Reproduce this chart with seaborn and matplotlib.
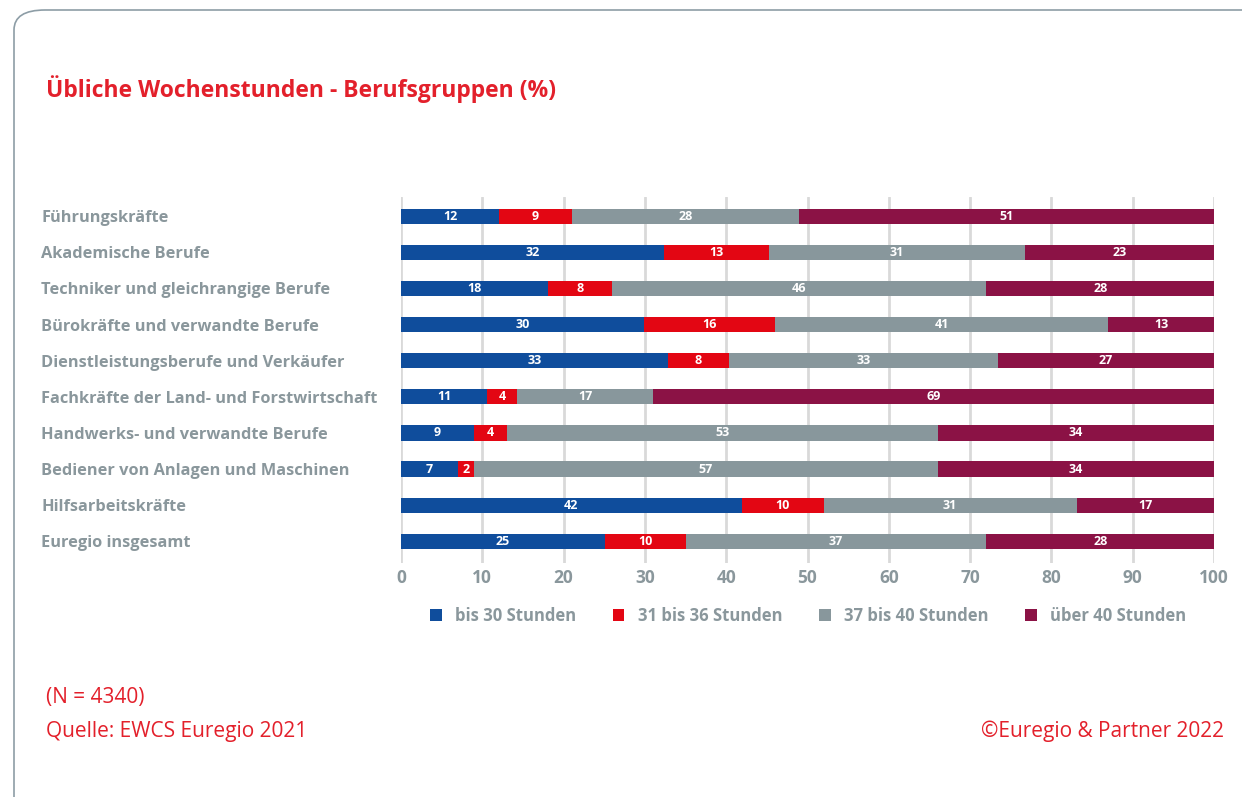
import numpy as np
import matplotlib
matplotlib.use('Agg')
import matplotlib.pyplot as plt
import pandas as pd
import seaborn as sns
from matplotlib.patches import FancyBboxPatch, Patch

sns.set_theme(style='white')
plt.rcParams['font.family'] = ['Open Sans', 'DejaVu Sans']

# data (percent per occupation group)
groups = [
    'Führungskräfte',
    'Akademische Berufe',
    'Techniker und gleichrangige Berufe',
    'Bürokräfte und verwandte Berufe',
    'Dienstleistungsberufe und Verkäufer',
    'Fachkräfte der Land- und Forstwirtschaft',
    'Handwerks- und verwandte Berufe',
    'Bediener von Anlagen und Maschinen',
    'Hilfsarbeitskräfte',
    'Euregio insgesamt',
]
bis_30 = [12.1, 32.3, 18.1, 29.9, 32.8, 10.6, 9.0, 7.0, 41.9, 25.1]
von_31_36 = [8.9, 13.0, 7.9, 16.1, 7.6, 3.7, 4.0, 2.0, 10.1, 9.9]
von_37_40 = [28.0, 31.4, 46.0, 41.0, 33.0, 16.7, 53.0, 57.0, 31.1, 37.0]
ueber_40 = [51.0, 23.3, 28.0, 13.0, 26.6, 69.0, 34.0, 34.0, 16.9, 28.0]
series_names = ['bis 30 Stunden', '31 bis 36 Stunden',
                '37 bis 40 Stunden', 'über 40 Stunden']
colors = ['#0F4D9C', '#E30613', '#88979C', '#8B1245']

df = pd.DataFrame({'group': groups,
                   series_names[0]: bis_30,
                   series_names[1]: von_31_36,
                   series_names[2]: von_37_40,
                   series_names[3]: ueber_40})
cum = df[series_names].cumsum(axis=1)

red = '#E3202B'
grey_txt = '#8A979C'

fig = plt.figure(figsize=(12.42, 7.97), dpi=100)
ax = fig.add_axes([401 / 1242, 1 - 563 / 797, 813 / 1242, 366 / 797])

# stacked bars: draw cumulative totals from the widest down
for name, col in reversed(list(zip(series_names, colors))):
    sns.barplot(x=cum[name], y=df['group'], orient='h', color=col,
                saturation=1, width=0.42, linewidth=0, errorbar=None,
                ax=ax, zorder=3)

# segment labels
for i in range(len(df)):
    left = 0
    for name in series_names:
        v = df.loc[i, name]
        ax.text(left + v / 2, i, f'{round(v):d}', ha='center', va='center',
                color='white', fontsize=9, fontweight='bold', zorder=4)
        left += v

ax.set_xlim(0, 100)
ax.set_ylim(9.6, -0.53)
ax.set_xticks(np.arange(0, 101, 10))
ax.grid(axis='x', color='#D9D9D9', linewidth=2, zorder=0)
ax.grid(axis='y', visible=False)
for s in ax.spines.values():
    s.set_visible(False)
ax.set_xlabel('')
ax.set_ylabel('')
ax.tick_params(axis='x', length=0, pad=4, labelsize=12.5, labelcolor=grey_txt)
for t in ax.get_xticklabels():
    t.set_fontweight('bold')
ax.tick_params(axis='y', length=0, pad=259, labelsize=11.8, labelcolor=grey_txt)
for t in ax.get_yticklabels():
    t.set_ha('left')
    t.set_fontweight('bold')

handles = [Patch(facecolor=c, edgecolor='none') for c in colors]
leg = fig.legend(handles, series_names, loc='center', ncol=4,
                 bbox_to_anchor=(808 / 1242, 1 - 616 / 797), frameon=False,
                 handlelength=0.7, handleheight=0.7, handletextpad=0.8,
                 columnspacing=2.2, fontsize=12)
for t in leg.get_texts():
    t.set_color(grey_txt)
    t.set_fontweight('bold')

fig.text(46 / 1242, 1 - 89 / 797, 'Übliche Wochenstunden - Berufsgruppen (%)',
         color=red, fontsize=16.5, fontweight='bold', va='center', ha='left')
fig.text(46 / 1242, 1 - 697 / 797, '(N = 4340)', color=red, fontsize=15,
         va='center', ha='left')
fig.text(46 / 1242, 1 - 731 / 797, 'Quelle: EWCS Euregio 2021', color=red,
         fontsize=15, va='center', ha='left')
fig.text(1224 / 1242, 1 - 731 / 797, '©Euregio & Partner 2022', color=red,
         fontsize=15, va='center', ha='right')

frame = FancyBboxPatch((14 / 1242, -0.05), 1.1, 1.05 - 10 / 797,
                       boxstyle='round,pad=0,rounding_size=0.025',
                       transform=fig.transFigure, facecolor='none',
                       edgecolor='#8D9DA6', linewidth=1.2, clip_on=False)
fig.patches.append(frame)

fig.savefig('out.png', dpi=100)
